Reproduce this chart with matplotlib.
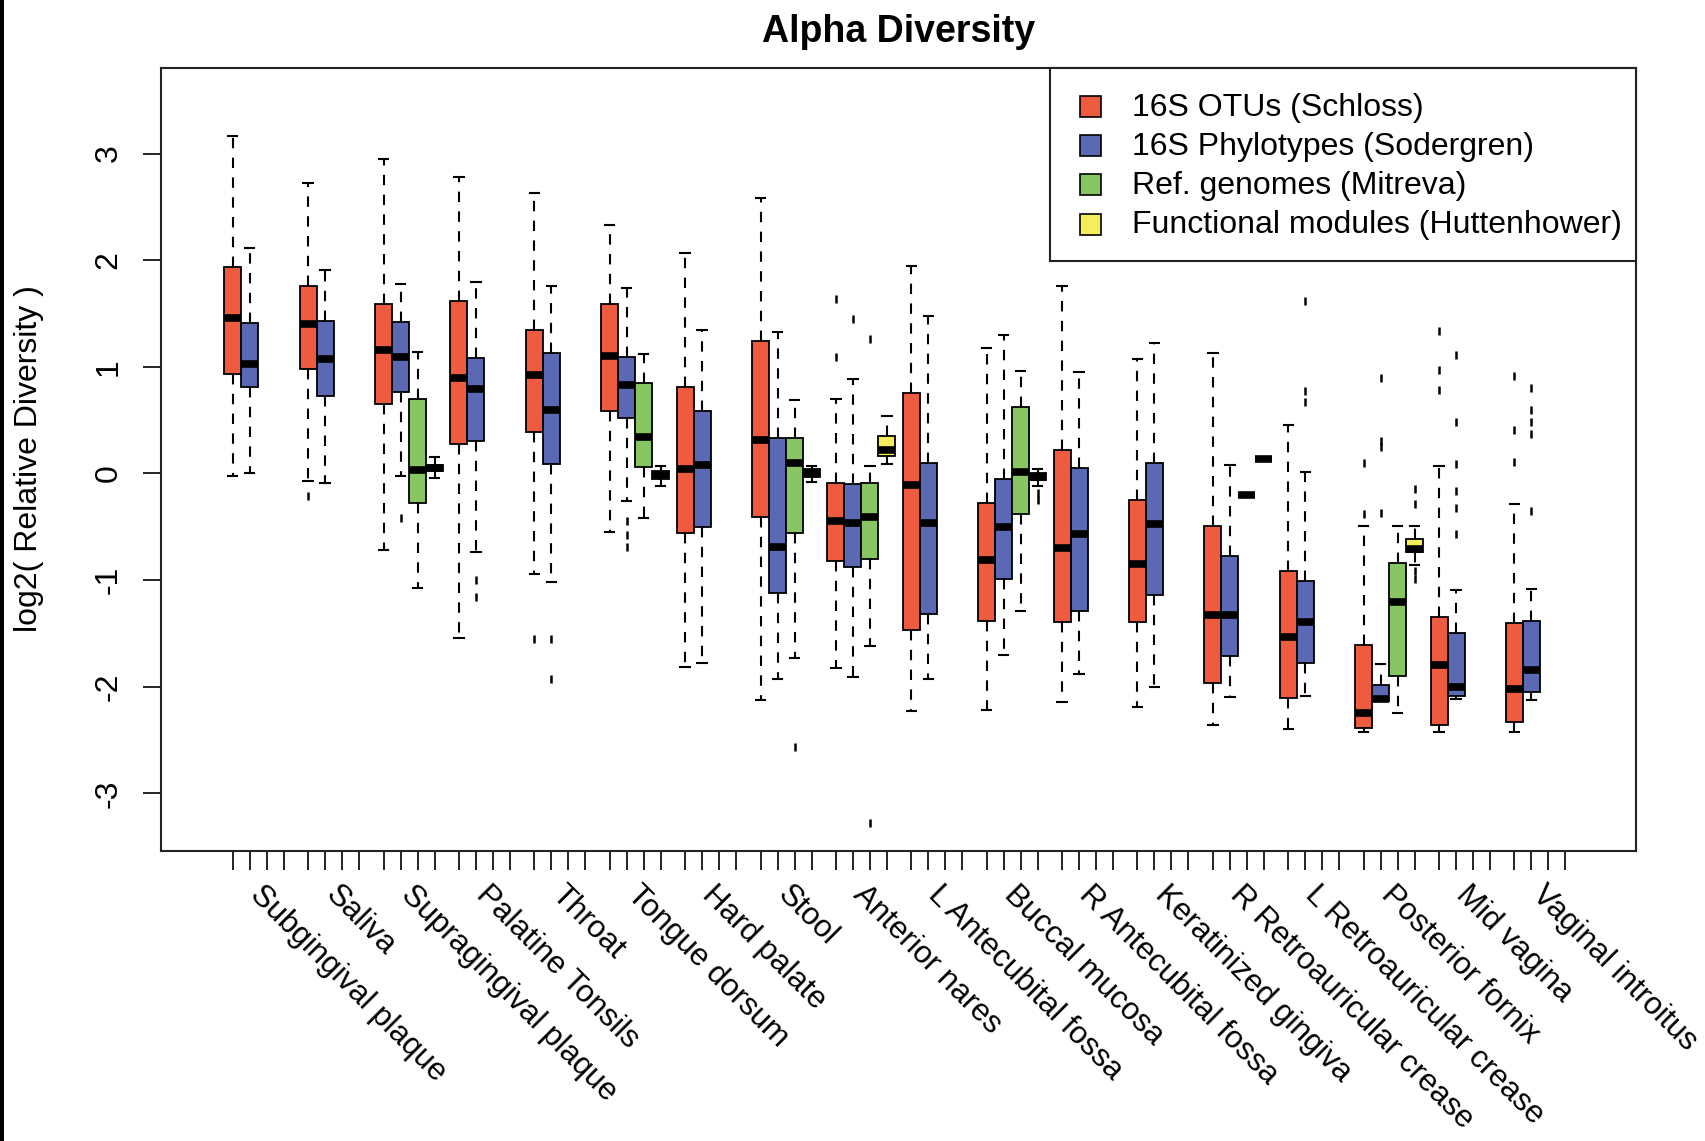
import numpy as np
import matplotlib.pyplot as plt
from matplotlib.patches import Rectangle
from matplotlib.transforms import blended_transform_factory

plt.rcParams['font.family'] = ['Liberation Sans', 'DejaVu Sans']

# body sites, in plotting order
sites = ['Subgingival plaque', 'Saliva', 'Supragingival plaque', 'Palatine Tonsils',
         'Throat', 'Tongue dorsum', 'Hard palate', 'Stool', 'Anterior nares',
         'L Antecubital fossa', 'Buccal mucosa', 'R Antecubital fossa',
         'Keratinized gingiva', 'R Retroauricular crease', 'L Retroauricular crease',
         'Posterior fornix', 'Mid vagina', 'Vaginal introitus']

methods = ['16S OTUs (Schloss)', '16S Phylotypes (Sodergren)',
           'Ref. genomes (Mitreva)', 'Functional modules (Huttenhower)']
colors = ['#EF5B3F', '#5B69B4', '#88C664', '#F4EE5C']

# (whisker low, q1, median, q3, whisker high) per site; None = not measured
otu_stats = [(-0.02, 0.93, 1.46, 1.94, 3.16), (-0.07, 0.98, 1.40, 1.76, 2.72),
             (-0.72, 0.65, 1.16, 1.59, 2.95), (-1.54, 0.275, 0.90, 1.62, 2.78),
             (-0.94, 0.39, 0.92, 1.35, 2.63), (-0.55, 0.59, 1.10, 1.59, 2.33),
             (-1.81, -0.56, 0.04, 0.81, 2.07), (-2.12, -0.41, 0.31, 1.24, 2.58),
             (-1.82, -0.82, -0.445, -0.085, 0.70), (-2.23, -1.47, -0.107, 0.755, 1.945),
             (-2.215, -1.385, -0.81, -0.28, 1.18), (-2.14, -1.395, -0.70, 0.22, 1.76),
             (-2.19, -1.395, -0.85, -0.248, 1.07), (-2.36, -1.96, -1.33, -0.49, 1.127),
             (-2.40, -2.105, -1.535, -0.915, 0.455), (-2.42, -2.388, -2.247, -1.605, -0.49),
             (-2.42, -2.363, -1.80, -1.345, 0.07), (-2.42, -2.33, -2.02, -1.40, -0.29)]

phylo_stats = [(0.0, 0.81, 1.03, 1.41, 2.11), (-0.09, 0.725, 1.07, 1.43, 1.91),
               (-0.02, 0.76, 1.09, 1.42, 1.78), (-0.74, 0.30, 0.79, 1.08, 1.80),
               (-1.02, 0.09, 0.60, 1.13, 1.76), (-0.26, 0.52, 0.83, 1.09, 1.74),
               (-1.78, -0.50, 0.08, 0.59, 1.35), (-1.93, -1.125, -0.69, 0.33, 1.33),
               (-1.91, -0.875, -0.46, -0.095, 0.886), (-1.93, -1.32, -0.46, 0.10, 1.48),
               (-1.70, -0.99, -0.50, -0.048, 1.30), (-1.88, -1.285, -0.57, 0.05, 0.95),
               (-2.005, -1.135, -0.477, 0.10, 1.22), (-2.10, -1.71, -1.33, -0.77, 0.08),
               (-2.084, -1.777, -1.39, -1.01, 0.015), (-2.137, -2.137, -2.11, -1.98, -1.79),
               (-2.115, -2.084, -2.005, -1.495, -1.088), (-2.12, -2.05, -1.84, -1.385, -1.08)]

genome_stats = [None, None, (-1.07, -0.28, 0.03, 0.70, 1.14), None, None,
                (-0.42, 0.06, 0.34, 0.85, 1.12), None, (-1.73, -0.56, 0.097, 0.33, 0.69),
                (-1.62, -0.80, -0.405, -0.085, 0.07), None, (-1.285, -0.38, 0.01, 0.62, 0.964),
                None, None, (-0.20, -0.20, -0.20, -0.20, -0.20), None,
                (-2.247, -1.896, -1.204, -0.843, -0.49), None, None]

module_stats = [None, None, (-0.04, 0.02, 0.05, 0.08, 0.15), None, None,
                (-0.12, -0.05, -0.015, 0.025, 0.07), None, (-0.08, -0.03, 0.0, 0.04, 0.07),
                (0.087, 0.165, 0.22, 0.35, 0.535), None, (-0.12, -0.06, -0.03, 0.0, 0.046),
                None, None, (0.135, 0.135, 0.135, 0.135, 0.135), None,
                (-0.86, -0.734, -0.706, -0.617, -0.49), None, None]

# outlying points, by site index
otu_out = {1: [-0.21], 4: [-1.55], 8: [1.09, 1.64], 15: [0.10, -0.38],
           16: [1.34, 0.97, 0.78], 17: [0.914, 0.41, 0.11]}
phylo_out = {2: [-0.42], 3: [-1.0, -1.16], 4: [-1.55, -1.93], 5: [-0.45, -0.58, -0.69],
             8: [1.45], 14: [1.62, 0.776, 0.673], 15: [0.90, 0.30, 0.25, -0.37],
             16: [1.11, 0.485, 0.09, -0.16, -0.32, -0.57],
             17: [0.80, 0.60, 0.48, 0.37, -0.35]}
genome_out = {7: [-2.56], 8: [1.26, -3.28]}
module_out = {10: [-0.18, -0.25], 15: [-0.148, -0.29, -0.915, -0.99]}

group_step = 4.435
all_stats = [otu_stats, phylo_stats, genome_stats, module_stats]
all_out = [otu_out, phylo_out, genome_out, module_out]

fig = plt.figure(figsize=(17.05, 11.41), dpi=100)
W, H = 1705, 1141
ax_l, ax_r, ax_t, ax_b = 161, 1636, 67.7, 850.7
ax = fig.add_axes([ax_l / W, 1 - ax_b / H, (ax_r - ax_l) / W, (ax_b - ax_t) / H])

for k, (stats, outs, col) in enumerate(zip(all_stats, all_out, colors)):
    bxs, pos = [], []
    for g, s in enumerate(stats):
        if s is None:
            continue
        lo, q1, med, q3, hi = s
        bxs.append(dict(whislo=lo, q1=q1, med=med, q3=q3, whishi=hi,
                        fliers=outs.get(g, [])))
        pos.append(g * group_step + k)
    ax.bxp(bxs, positions=pos, widths=1.0, capwidths=0.55, patch_artist=True,
           manage_ticks=False,
           boxprops=dict(facecolor=col, edgecolor='black', linewidth=1.3),
           medianprops=dict(color='black', linewidth=5.5, solid_capstyle='butt'),
           whiskerprops=dict(color='black', linewidth=1.5, linestyle=(0, (5, 4.5))),
           capprops=dict(color='black', linewidth=1.5),
           flierprops=dict(marker='|', markersize=6, markeredgewidth=1.8,
                           markeredgecolor='black', linestyle='none'))

n_last = (len(sites) - 1) * group_step + 3
ax.set_xlim(-4.22, n_last + 4.15)
ax.set_ylim(-3.537, 3.805)

ticks = [g * group_step + k for g in range(len(sites)) for k in range(4)]
ax.set_xticks(ticks)
ax.set_xticklabels([])
ax.tick_params(axis='x', length=14, width=1.2, color='black')
ax.set_yticks([-3, -2, -1, 0, 1, 2, 3])
ax.set_yticklabels(['-3', '-2', '-1', '0', '1', '2', '3'], rotation=90, va='center')
ax.tick_params(axis='y', length=13, width=1.2, pad=14, labelsize=23)
for sp in ax.spines.values():
    sp.set_linewidth(1.5)
    sp.set_color('#222222')

# site names, slanted under each group of four
trans = blended_transform_factory(ax.transData, ax.transAxes)
label_y = (ax_b - 880) / (ax_b - ax_t)
for g, name in enumerate(sites):
    ax.text(g * group_step + 1.9, label_y, name, transform=trans, rotation=-45,
            rotation_mode='anchor', ha='left', va='top', fontsize=22.5, clip_on=False)

# legend box in the top right corner
def fx(px):
    return (px - ax_l) / (ax_r - ax_l)

def fy(py):
    return (ax_b - py) / (ax_b - ax_t)

ax.add_patch(Rectangle((fx(1050), fy(261)), 1 - fx(1050), 1 - fy(261),
                       transform=ax.transAxes, facecolor='white', edgecolor='#222222',
                       linewidth=1.5, zorder=5, clip_on=False))
for i, (lab, col) in enumerate(zip(methods, colors)):
    cy = 106.6 + 39.15 * i
    ax.add_patch(Rectangle((fx(1080), fy(cy + 10.5)), fx(1101) - fx(1080), 21 / (ax_b - ax_t),
                           transform=ax.transAxes, facecolor=col, edgecolor='black',
                           linewidth=1.2, zorder=6))
    ax.text(fx(1132), fy(cy + 1), lab, transform=ax.transAxes, ha='left', va='center',
            fontsize=23, zorder=6)

fig.text((ax_l + ax_r) / 2 / W, 1 - 32 / H, 'Alpha Diversity', ha='center', va='center',
         fontsize=27, fontweight='bold')
fig.text(29 / W, 1 - 459 / H, 'log2( Relative Diversity )', rotation=90,
         ha='center', va='center', fontsize=23)

fig.add_artist(Rectangle((0, 0), 4 / W, 1, transform=fig.transFigure,
                         facecolor='black', edgecolor='none'))

fig.savefig('out.png', dpi=100)
